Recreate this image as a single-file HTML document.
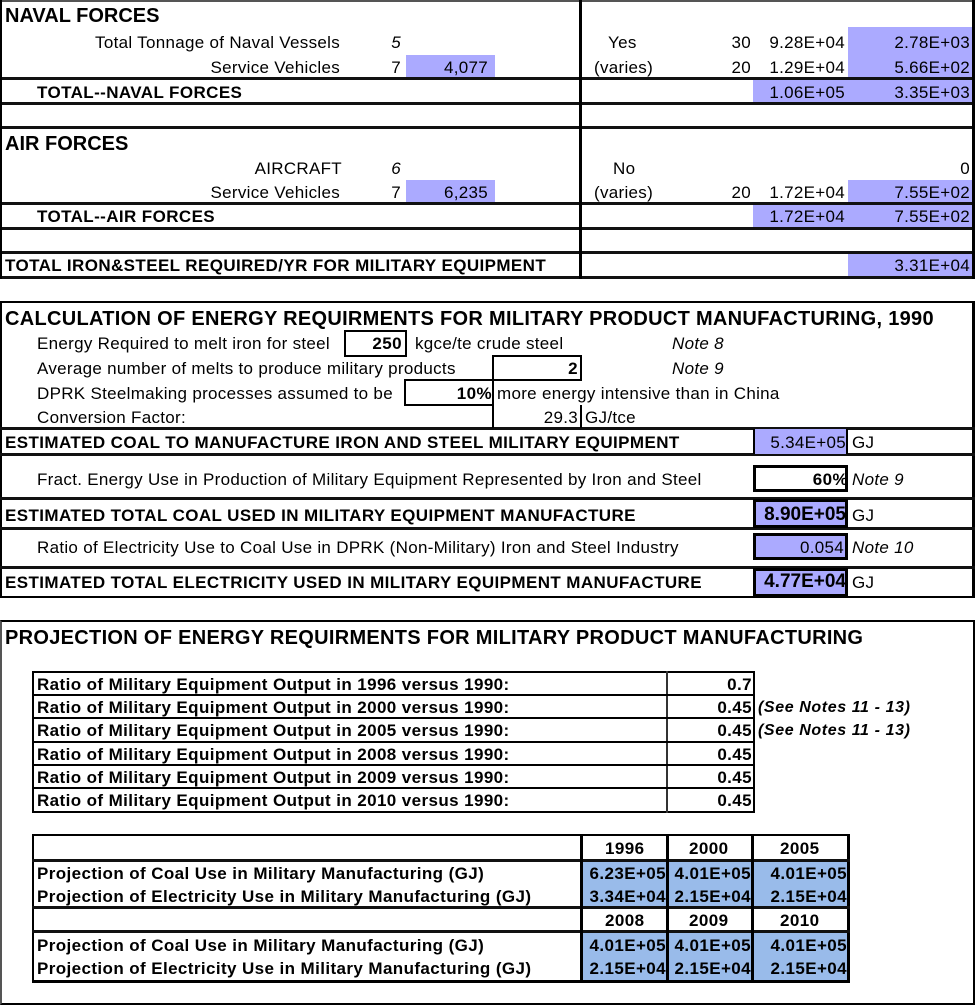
<!DOCTYPE html>
<html><head><meta charset="utf-8"><style>
body{margin:0;width:975px;height:1008px;background:#fff;position:relative;overflow:hidden;font-family:"Liberation Sans",Arial,sans-serif;color:#000}
div{position:absolute;box-sizing:border-box}
.h{height:2px;background:#000}
.H{height:3px;background:#111}
.v{width:2px;background:#000}
.t{white-space:nowrap;font-size:17px;letter-spacing:.3px;line-height:18px;height:18px;margin-top:1px}
.b{font-weight:bold;letter-spacing:.4px}
.i{font-style:italic}
.s{font-size:17px;letter-spacing:.4px}
.lav{background:#abaaff}
.blu{background:#99bbea}
.bx{border:2px solid #000}
</style></head><body>
<div class="h" style="left:0;top:0;width:975px;background:#555"></div>
<div class="H" style="left:0;top:77px;width:975px"></div>
<div class="H" style="left:0;top:102px;width:975px"></div>
<div class="H" style="left:0;top:126px;width:975px"></div>
<div class="H" style="left:0;top:202px;width:975px"></div>
<div class="H" style="left:0;top:227px;width:975px"></div>
<div class="H" style="left:0;top:251px;width:975px"></div>
<div class="H" style="left:0;top:276px;width:975px"></div>
<div class="v" style="left:0;top:0;height:279px"></div>
<div class="v" style="left:972px;top:0;height:279px;width:3px"></div>
<div class="v" style="left:579px;top:0;height:279px;width:3px"></div>
<div class="lav" style="left:406px;top:55px;width:89px;height:22px"></div>
<div class="lav" style="left:848px;top:27px;width:124px;height:50px"></div>
<div class="lav" style="left:753px;top:80px;width:219px;height:22px"></div>
<div class="lav" style="left:406px;top:180px;width:89px;height:22px"></div>
<div class="lav" style="left:848px;top:180px;width:124px;height:22px"></div>
<div class="lav" style="left:753px;top:205px;width:219px;height:22px"></div>
<div class="lav" style="left:848px;top:254px;width:124px;height:22px"></div>
<div class="t b" style="left:5px;top:5px;font-size:20px;line-height:20px;letter-spacing:0">NAVAL FORCES</div>
<div class="t" style="right:635px;top:33px">Total Tonnage of Naval Vessels</div>
<div class="t i" style="right:574px;top:33px">5</div>
<div class="t" style="right:635px;top:58px">Service Vehicles</div>
<div class="t" style="right:574px;top:58px">7</div>
<div class="t" style="right:487px;top:58px">4,077</div>
<div class="t b" style="left:37px;top:83px">TOTAL--NAVAL FORCES</div>
<div class="t" style="left:608px;top:33px">Yes</div>
<div class="t" style="left:594px;top:58px">(varies)</div>
<div class="t" style="right:224px;top:33px">30</div>
<div class="t" style="right:130px;top:33px">9.28E+04</div>
<div class="t" style="right:5px;top:33px">2.78E+03</div>
<div class="t" style="right:224px;top:58px">20</div>
<div class="t" style="right:130px;top:58px">1.29E+04</div>
<div class="t" style="right:5px;top:58px">5.66E+02</div>
<div class="t" style="right:130px;top:83px">1.06E+05</div>
<div class="t" style="right:5px;top:83px">3.35E+03</div>

<div class="t b" style="left:5px;top:133px;font-size:20px;line-height:20px;letter-spacing:0">AIR FORCES</div>
<div class="t" style="right:633px;top:159px">AIRCRAFT</div>
<div class="t i" style="right:574px;top:159px">6</div>
<div class="t" style="right:635px;top:183px">Service Vehicles</div>
<div class="t" style="right:574px;top:183px">7</div>
<div class="t" style="right:487px;top:183px">6,235</div>
<div class="t b" style="left:37px;top:207px">TOTAL--AIR FORCES</div>
<div class="t" style="left:613px;top:159px">No</div>
<div class="t" style="right:5px;top:159px">0</div>
<div class="t" style="left:594px;top:183px">(varies)</div>
<div class="t" style="right:224px;top:183px">20</div>
<div class="t" style="right:130px;top:183px">1.72E+04</div>
<div class="t" style="right:5px;top:183px">7.55E+02</div>
<div class="t" style="right:130px;top:207px">1.72E+04</div>
<div class="t" style="right:5px;top:207px">7.55E+02</div>
<div class="t b" style="left:5px;top:256px">TOTAL IRON&amp;STEEL REQUIRED/YR FOR MILITARY EQUIPMENT</div>
<div class="t" style="right:5px;top:256px">3.31E+04</div>

<div style="left:0;top:301px;width:975px;height:297px;border:2px solid #000;border-right-width:3px"></div>
<div class="H" style="left:0;top:427px;width:975px"></div>
<div class="H" style="left:0;top:453px;width:975px"></div>
<div class="H" style="left:0;top:497px;width:975px"></div>
<div class="H" style="left:0;top:527px;width:975px"></div>
<div class="H" style="left:0;top:566px;width:975px"></div>
<div class="t b" style="left:5px;top:308px;font-size:20px;letter-spacing:.3px;line-height:20px;height:20px">CALCULATION OF ENERGY REQUIRMENTS FOR MILITARY PRODUCT MANUFACTURING, 1990</div>
<div class="t" style="left:37px;top:334px">Energy Required to melt iron for steel</div>
<div class="bx" style="left:344px;top:330px;width:63px;height:27px"></div>
<div class="t b" style="right:573px;top:334px">250</div>
<div class="t" style="left:415px;top:334px">kgce/te crude steel</div>
<div class="t i" style="left:672px;top:334px">Note 8</div>
<div class="t" style="left:37px;top:359px">Average number of melts to produce military products</div>
<div class="bx" style="left:492px;top:355px;width:90px;height:26px"></div>
<div class="t b" style="right:397px;top:359px">2</div>
<div class="t i" style="left:672px;top:359px">Note 9</div>
<div class="t" style="left:37px;top:384px">DPRK Steelmaking processes assumed to be</div>
<div class="bx" style="left:404px;top:379px;width:90px;height:27px"></div>
<div class="t b" style="right:483px;top:384px">10%</div>
<div class="t" style="left:497px;top:384px">more energy intensive than in China</div>
<div class="t" style="left:37px;top:408px">Conversion Factor:</div>
<div class="v" style="left:492px;top:405px;height:23px"></div>
<div class="v" style="left:580px;top:405px;height:23px"></div>
<div class="t" style="right:397px;top:408px">29.3</div>
<div class="t" style="left:585px;top:408px">GJ/tce</div>

<div class="lav" style="left:753px;top:429px;width:95px;height:25px;border-left:2px solid #000;border-right:2px solid #000"></div>
<div class="t b" style="left:5px;top:433px">ESTIMATED COAL TO MANUFACTURE IRON AND STEEL MILITARY EQUIPMENT</div>
<div class="t" style="right:129px;top:433px">5.34E+05</div>
<div class="t" style="left:852px;top:433px">GJ</div>

<div class="t" style="left:37px;top:470px">Fract. Energy Use in Production of Military Equipment Represented by Iron and Steel</div>
<div class="bx" style="left:753px;top:465px;width:95px;height:27px;border-width:3px"></div>
<div class="t b" style="right:127px;top:470px">60%</div>
<div class="t i" style="left:852px;top:470px">Note 9</div>

<div class="lav bx" style="left:753px;top:499px;width:95px;height:29px;border-width:3px"></div>
<div class="t b" style="left:5px;top:506px">ESTIMATED TOTAL COAL USED IN MILITARY EQUIPMENT MANUFACTURE</div>
<div class="t b" style="right:129px;top:504px;font-size:19px;letter-spacing:0;line-height:20px">8.90E+05</div>
<div class="t" style="left:852px;top:506px">GJ</div>

<div class="t" style="left:37px;top:538px">Ratio of Electricity Use to Coal Use in DPRK (Non-Military) Iron and Steel Industry</div>
<div class="lav bx" style="left:753px;top:533px;width:95px;height:27px;border-width:3px"></div>
<div class="t" style="right:131px;top:538px">0.054</div>
<div class="t i" style="left:852px;top:538px">Note 10</div>

<div class="lav bx" style="left:753px;top:568px;width:95px;height:29px;border-width:3px"></div>
<div class="t b" style="left:5px;top:573px">ESTIMATED TOTAL ELECTRICITY USED IN MILITARY EQUIPMENT MANUFACTURE</div>
<div class="t b" style="right:129px;top:571px;font-size:19px;letter-spacing:0;line-height:20px">4.77E+04</div>
<div class="t" style="left:852px;top:573px">GJ</div>

<div style="left:0;top:620px;width:975px;height:385px;border:2px solid #000;border-left-color:#555"></div>
<div class="t b" style="left:5px;top:627px;font-size:20px;letter-spacing:.3px;line-height:20px;height:20px">PROJECTION OF ENERGY REQUIRMENTS FOR MILITARY PRODUCT MANUFACTURING</div>
<div style="left:32px;top:671px;width:723px;height:142px;border:2px solid #000"></div>
<div class="v" style="left:666px;top:671px;height:142px;background:#333"></div>
<div class="h" style="left:32px;top:694px;width:723px"></div>
<div class="h" style="left:32px;top:717px;width:723px"></div>
<div class="h" style="left:32px;top:741px;width:723px"></div>
<div class="h" style="left:32px;top:764px;width:723px"></div>
<div class="h" style="left:32px;top:787px;width:723px"></div>
<div class="t b s" style="left:37px;top:675px">Ratio of Military Equipment Output in 1996 versus 1990:</div>
<div class="t b s" style="left:37px;top:698px">Ratio of Military Equipment Output in 2000 versus 1990:</div>
<div class="t b s" style="left:37px;top:721px">Ratio of Military Equipment Output in 2005 versus 1990:</div>
<div class="t b s" style="left:37px;top:745px">Ratio of Military Equipment Output in 2008 versus 1990:</div>
<div class="t b s" style="left:37px;top:768px">Ratio of Military Equipment Output in 2009 versus 1990:</div>
<div class="t b s" style="left:37px;top:791px">Ratio of Military Equipment Output in 2010 versus 1990:</div>
<div class="t b s" style="right:223px;top:675px">0.7</div>
<div class="t b s" style="right:223px;top:698px">0.45</div>
<div class="t b s" style="right:223px;top:721px">0.45</div>
<div class="t b s" style="right:223px;top:745px">0.45</div>
<div class="t b s" style="right:223px;top:768px">0.45</div>
<div class="t b s" style="right:223px;top:791px">0.45</div>
<div class="t b i" style="left:758px;top:698px;font-size:16px;letter-spacing:.6px">(See Notes 11 - 13)</div>
<div class="t b i" style="left:758px;top:721px;font-size:16px;letter-spacing:.6px">(See Notes 11 - 13)</div>

<div class="blu" style="left:581px;top:861px;width:268px;height:47px"></div>
<div class="blu" style="left:581px;top:932px;width:268px;height:50px"></div>
<div style="left:32px;top:834px;width:818px;height:149px;border:2px solid #000;border-right-width:3px;border-bottom-width:3px"></div>
<div class="H" style="left:32px;top:859px;width:818px"></div>
<div class="H" style="left:32px;top:906px;width:818px"></div>
<div class="H" style="left:32px;top:930px;width:818px"></div>
<div class="v" style="left:580px;top:834px;height:149px;width:3px"></div>
<div class="v" style="left:666px;top:834px;height:149px;width:3px"></div>
<div class="v" style="left:751px;top:834px;height:149px;width:3px"></div>
<div class="t b s" style="left:605px;top:839px">1996</div>
<div class="t b s" style="left:689px;top:839px">2000</div>
<div class="t b s" style="left:780px;top:839px">2005</div>
<div class="t b s" style="left:605px;top:911px">2008</div>
<div class="t b s" style="left:689px;top:911px">2009</div>
<div class="t b s" style="left:780px;top:911px">2010</div>
<div class="t b s" style="left:37px;top:864px">Projection of Coal Use in Military Manufacturing (GJ)</div>
<div class="t b s" style="left:37px;top:887px">Projection of Electricity Use in Military Manufacturing (GJ)</div>
<div class="t b s" style="left:37px;top:936px">Projection of Coal Use in Military Manufacturing (GJ)</div>
<div class="t b s" style="left:37px;top:959px">Projection of Electricity Use in Military Manufacturing (GJ)</div>
<div class="t b s" style="right:309px;top:864px">6.23E+05</div>
<div class="t b s" style="right:224px;top:864px">4.01E+05</div>
<div class="t b s" style="right:128px;top:864px">4.01E+05</div>
<div class="t b s" style="right:309px;top:887px">3.34E+04</div>
<div class="t b s" style="right:224px;top:887px">2.15E+04</div>
<div class="t b s" style="right:128px;top:887px">2.15E+04</div>
<div class="t b s" style="right:309px;top:936px">4.01E+05</div>
<div class="t b s" style="right:224px;top:936px">4.01E+05</div>
<div class="t b s" style="right:128px;top:936px">4.01E+05</div>
<div class="t b s" style="right:309px;top:959px">2.15E+04</div>
<div class="t b s" style="right:224px;top:959px">2.15E+04</div>
<div class="t b s" style="right:128px;top:959px">2.15E+04</div>
</body></html>
